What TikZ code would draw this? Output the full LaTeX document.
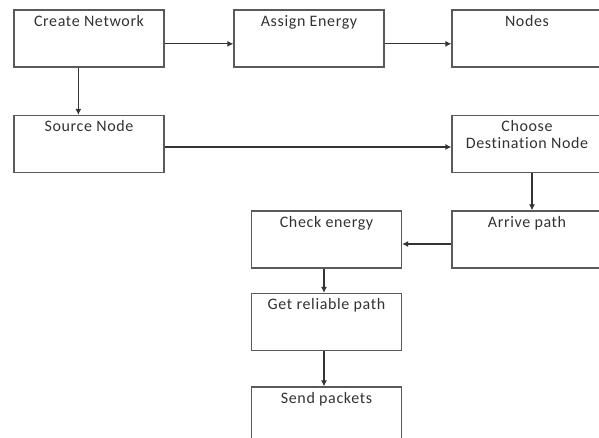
\documentclass[tikz,border=0pt]{standalone}
\usepackage{fontspec}
\usetikzlibrary{arrows.meta}
\newfontfamily\boxfont[LetterSpace=4,Ligatures=NoCommon]{Carlito}
\definecolor{boxline}{RGB}{90,90,90}
\definecolor{boxtext}{RGB}{50,50,50}
\tikzset{
  flowbox/.style 2 args={draw=boxline, line width=0.9pt, minimum width=112.5pt, minimum height=42.75pt, inner sep=0pt,
    label={[anchor=base, yshift=#2, inner sep=0pt, align=center, text=boxtext,
      font=\boxfont\fontsize{12}{12.75}\selectfont]north:#1}},
  flowarrow/.style={draw=black!80, line width=0.9pt, -{Latex[length=4.5pt,width=4.5pt]}}
}
\begin{document}
\begin{tikzpicture}[x=0.75pt,y=0.75pt,yscale=-1,xscale=1]
\path [use as bounding box, clip] (0,0) rectangle (599,438);

% Boxes
\node [flowbox={Create Network}{-12.5pt}] (cn) at (89,38.5) {};
\node [flowbox={Assign Energy}{-12.5pt}] (ae) at (309,38.5) {};
\node [flowbox={Nodes}{-12.5pt}] (nd) at (527,38.5) {};
\node [flowbox={Source Node}{-12.5pt}] (sn) at (89,144) {};
\node [flowbox={Choose\\Destination Node}{-25pt}] (cd) at (527,144) {};
\node [flowbox={Arrive path}{-12.5pt}] (ap) at (527,239.5) {};
\node [flowbox={Check energy}{-12.5pt}] (ce) at (326.5,239.5) {};
\node [flowbox={Get reliable path}{-12.5pt}] (gp) at (326.5,322) {};
\node [flowbox={Send packets}{-12.5pt}] (sp) at (326.5,415.5) {};

% Connectors
\draw [flowarrow] ([yshift=4pt]cn.east) -- ([yshift=4pt]ae.west);
\draw [flowarrow] ([yshift=4pt]ae.east) -- ([yshift=4pt]nd.west);
\draw [flowarrow] ([xshift=-8pt]cn.south) -- ([xshift=-8pt]sn.north);
\draw [flowarrow] ([yshift=2.25pt]sn.east) -- ([yshift=2.25pt]cd.west);
\draw [flowarrow] ([xshift=3.75pt]cd.south) -- ([xshift=3.75pt]ap.north);
\draw [flowarrow] ([yshift=3.4pt]ap.west) -- ([yshift=3.4pt]ce.east);
\draw [flowarrow] ([xshift=-1.9pt]ce.south) -- ([xshift=-1.9pt]gp.north);
\draw [flowarrow] ([xshift=-1.9pt]gp.south) -- ([xshift=-1.9pt]sp.north);

\end{tikzpicture}
\end{document}
